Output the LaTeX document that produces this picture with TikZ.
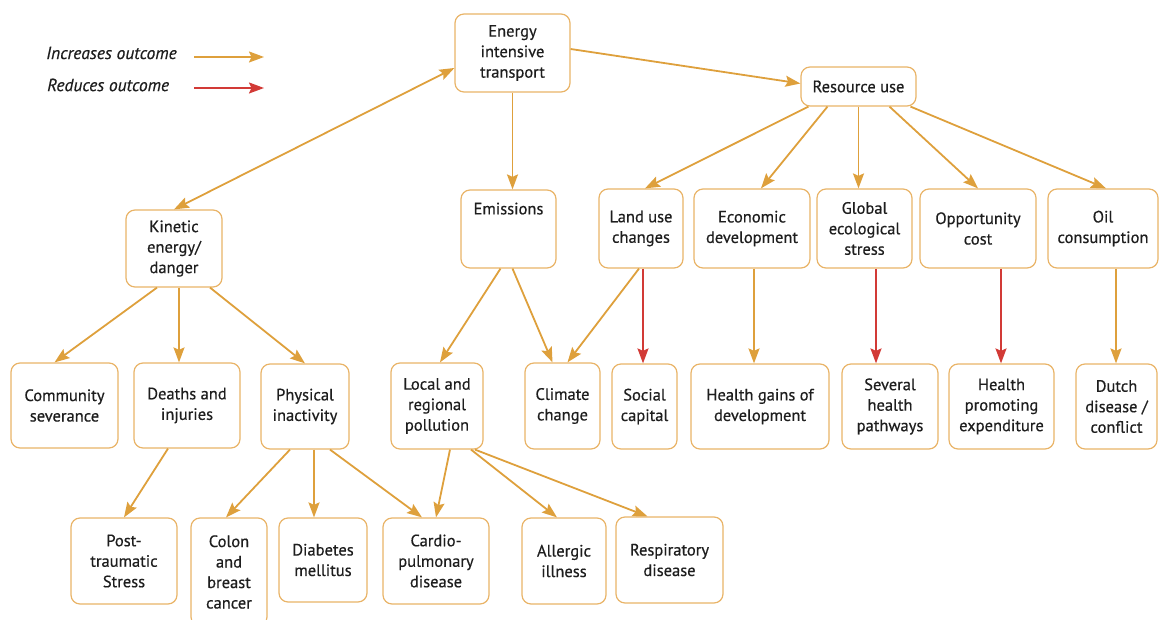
\documentclass[tikz,border=0pt]{standalone}
\usepackage{fontspec}
\setmainfont{PT Sans}
\newfontfamily\boxfont[FakeBold=0.5]{PT Sans}
\usetikzlibrary{arrows.meta}
\definecolor{arr}{HTML}{DEA03C}
\definecolor{redarr}{HTML}{D23A36}
\definecolor{bord}{HTML}{E9B468}
\definecolor{txt}{HTML}{1E1E1E}
\begin{document}
\begin{tikzpicture}[x=1pt,y=-1pt,
  box/.style={draw=bord, line width=1.2pt, rounded corners=9pt, fill=white, align=center,
    inner sep=1pt, font=\boxfont\fontsize{16.5}{20.5}\selectfont, text=txt},
  ar/.style={draw=arr, line width=1.8pt, -{Stealth[length=15pt,width=11pt,inset=2.5pt]}},
  rar/.style={ar, draw=redarr},
  dar/.style={draw=arr, line width=1.8pt, {Stealth[length=15pt,width=11pt,inset=2.5pt]}-{Stealth[length=15pt,width=11pt,inset=2.5pt]}},
  leg/.style={font=\boxfont\fontsize{17.5}{20}\selectfont\itshape, text=txt, anchor=west, inner sep=0pt}]
\useasboundingbox (0,0) rectangle (1159,620);
% legend
\node[leg] (li) at (46,53) {Increases outcome};
\node[leg] (lr) at (47,85) {Reduces outcome};
\coordinate (lia) at (194,57); \coordinate (lib) at (264,57);
\coordinate (lra) at (194,88); \coordinate (lrb) at (264,88);
\draw[ar] (lia) -- (lib);
\draw[rar] (lra) -- (lrb);
% top level
\node[box, minimum width=115pt, minimum height=78pt] (ene) at (512.5,53) {Energy\\intensive\\transport};
\node[box, minimum width=115pt, minimum height=39pt] (res) at (858.5,86.5) {Resource use};
% second level
\node[box, minimum width=96pt, minimum height=77pt] (kin) at (174,248.5) {Kinetic\\energy/\\danger};
\node[box, minimum width=95pt, minimum height=78pt] (emi) at (508.5,229) {Emissions\\[20.5pt]};
\node[box, minimum width=84pt, minimum height=79pt] (land) at (641,228.5) {Land use\\changes};
\node[box, minimum width=116pt, minimum height=79pt] (econ) at (752,228.5) {Economic\\development};
\node[box, minimum width=95pt, minimum height=79pt] (glob) at (864.5,228.5) {Global\\ecological\\stress};
\node[box, minimum width=116pt, minimum height=79pt] (opp) at (978,228.5) {Opportunity\\cost};
\node[box, minimum width=110pt, minimum height=79pt] (oil) at (1103,228.5) {Oil\\consumption};
% third level
\node[box, minimum width=107pt, minimum height=85pt] (com) at (64.5,405.5) {Community\\severance};
\node[box, minimum width=106pt, minimum height=85pt] (dea) at (187,405.5) {Deaths and\\injuries};
\node[box, minimum width=88pt, minimum height=85pt] (phy) at (305,406.5) {Physical\\inactivity};
\node[box, minimum width=92pt, minimum height=86pt] (loc) at (437,406) {Local and\\regional\\pollution};
\node[box, minimum width=75pt, minimum height=86pt] (cli) at (562.5,406) {Climate\\change};
\node[box, minimum width=65pt, minimum height=85pt] (soc) at (644.5,406.5) {Social\\capital};
\node[box, minimum width=138pt, minimum height=85pt] (hgd) at (760,406.5) {Health gains of\\development};
\node[box, minimum width=96pt, minimum height=85pt] (sev) at (890,406.5) {Several\\health\\pathways};
\node[box, minimum width=105pt, minimum height=85pt] (hpe) at (1001.5,406.5) {Health\\promoting\\expenditure};
\node[box, minimum width=81pt, minimum height=85pt] (dut) at (1116.5,406.5) {Dutch\\disease /\\conflict};
% fourth level
\node[box, minimum width=106pt, minimum height=86pt] (pts) at (124,561) {Post-\\traumatic\\Stress};
\node[box, minimum width=76pt, minimum height=108pt] (col) at (229,572) {Colon\\and\\breast\\cancer};
\node[box, minimum width=88pt, minimum height=84pt] (dia) at (323,560) {Diabetes\\mellitus};
\node[box, minimum width=106pt, minimum height=86pt] (car) at (436,561) {Cardio-\\pulmonary\\disease};
\node[box, minimum width=84pt, minimum height=86pt] (all) at (564,561) {Allergic\\illness};
\node[box, minimum width=107pt, minimum height=86pt] (rsp) at (669.5,560) {Respiratory\\disease};
% connectors
\draw[dar] ([yshift=-15pt]ene.west) -- (kin.north);
\draw[ar] ([yshift=4pt]ene.east) -- ([yshift=3pt]res.west);
\draw[ar] (ene.south) -- (ene.south |- emi.north);
\draw[ar] ([xshift=-50pt]res.south) -- ([xshift=4pt]land.north);
\draw[ar] ([xshift=-31pt]res.south) -- ([xshift=9pt]econ.north);
\draw[ar] (res.south) -- (res.south |- glob.north);
\draw[ar] ([xshift=31pt]res.south) -- (opp.north);
\draw[ar] ([xshift=52pt]res.south) -- ([xshift=3pt]oil.north);
\draw[ar] ([xshift=-17pt]kin.south) -- ([xshift=-10pt]com.north);
\draw[ar] ([xshift=5pt]kin.south) -- ([xshift=5pt]kin.south |- dea.north);
\draw[ar] ([xshift=36pt]kin.south) -- (phy.north);
\draw[ar] ([xshift=-8pt]emi.south) -- ([xshift=3pt]loc.north);
\draw[ar] ([xshift=4pt]emi.south) -- ([xshift=-10pt]cli.north);
\draw[ar] ([xshift=-2pt]land.south) -- ([xshift=5pt]cli.north);
\draw[rar] ([xshift=2pt]land.south) -- ([xshift=2pt]land.south |- soc.north);
\draw[ar] ([xshift=2pt]econ.south) -- ([xshift=2pt]econ.south |- hgd.north);
\draw[rar] ([xshift=11.5pt]glob.south) -- ([xshift=11.5pt]glob.south |- sev.north);
\draw[rar] ([xshift=23pt]opp.south) -- ([xshift=23pt]opp.south |- hpe.north);
\draw[ar] ([xshift=13pt]oil.south) -- ([xshift=13pt]oil.south |- dut.north);
\draw[ar] ([xshift=-19pt]dea.south) -- (pts.north);
\draw[ar] ([xshift=-15pt]phy.south) -- ([xshift=-3pt]col.north);
\draw[ar] ([xshift=9pt]phy.south) -- ([xshift=9pt]phy.south |- dia.north);
\draw[ar] ([xshift=25pt]phy.south) -- ([xshift=-14pt]car.north);
\draw[ar] ([xshift=13pt]loc.south) -- ([xshift=0pt]car.north);
\draw[ar] ([xshift=34pt]loc.south) -- ([xshift=-7pt]all.north);
\draw[ar] ([xshift=38pt]loc.south) -- ([xshift=-22pt]rsp.north);
\end{tikzpicture}
\end{document}
